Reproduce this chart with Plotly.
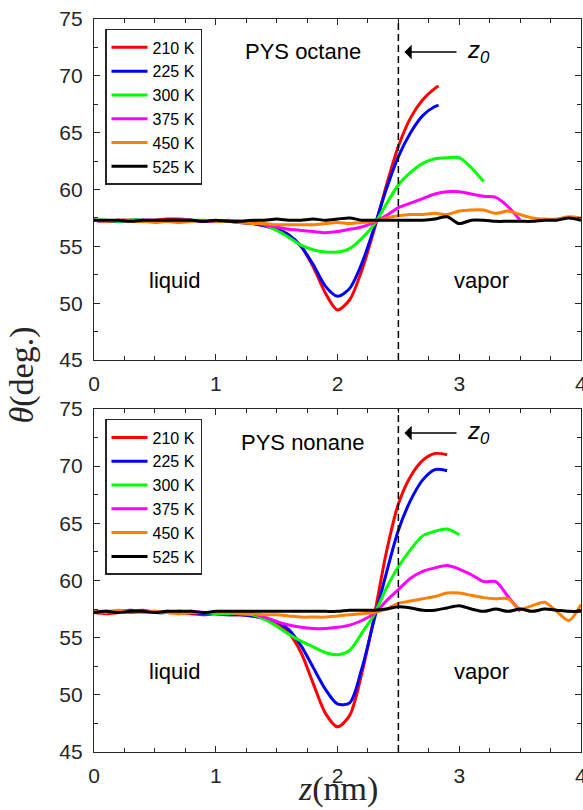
import plotly.graph_objects as go

# ---------------- data ----------------
Z_GRID = [0.0, 0.1, 0.2, 0.3, 0.4, 0.5, 0.6, 0.7, 0.8, 0.9, 1.0, 1.1, 1.2, 1.3, 1.4,
          1.5, 1.6, 1.7, 1.8, 1.9, 2.0, 2.1, 2.2, 2.3, 2.4, 2.5, 2.6, 2.7, 2.8, 2.9,
          3.0, 3.1, 3.2, 3.3, 3.4, 3.5, 3.6, 3.7, 3.8, 3.9, 4.0]
Z_END_OCT_LOW_T = 2.83

labels = ["210 K", "225 K", "300 K", "375 K", "450 K", "525 K"]
colors = ["#FF0000", "#0000FF", "#00FF00", "#FF00FF", "#FF8000", "#000000"]

# PYS octane
oct_210 = [57.3, 57.2, 57.3, 57.3, 57.2, 57.3, 57.4, 57.4, 57.3, 57.2, 57.2, 57.2, 57.1,
           57.0, 56.8, 56.5, 56.0, 55.0, 53.2, 50.9, 49.4, 50.3, 52.9, 56.4, 60.3, 63.8,
           66.3, 67.9, 68.9, 69.1]
oct_225 = [57.3, 57.2, 57.2, 57.3, 57.3, 57.2, 57.3, 57.3, 57.3, 57.2, 57.2, 57.2, 57.1,
           57.0, 56.8, 56.5, 56.0, 55.0, 53.4, 51.5, 50.6, 51.3, 53.5, 56.6, 60.0, 62.9,
           65.0, 66.5, 67.3, 67.4]
oct_300 = [57.3, 57.3, 57.2, 57.3, 57.3, 57.2, 57.2, 57.3, 57.3, 57.3, 57.2, 57.2, 57.2,
           57.1, 56.9, 56.4, 55.8, 55.1, 54.7, 54.5, 54.5, 54.8, 55.7, 56.9, 58.7, 60.4,
           61.5, 62.3, 62.7, 62.8, 62.8, 61.9, 60.7]
oct_375 = [57.3, 57.2, 57.3, 57.2, 57.3, 57.3, 57.2, 57.3, 57.3, 57.2, 57.2, 57.3, 57.2,
           57.2, 56.9, 56.7, 56.5, 56.4, 56.3, 56.2, 56.3, 56.5, 56.7, 57.1, 57.7, 58.4,
           58.8, 59.2, 59.6, 59.8, 59.8, 59.6, 59.4, 59.3, 58.5, 57.3]
oct_450 = [57.3, 57.2, 57.3, 57.2, 57.2, 57.1, 57.2, 57.1, 57.2, 57.3, 57.2, 57.2, 57.1,
           57.0, 57.0, 56.9, 56.9, 56.9, 56.9, 57.0, 57.1, 57.0, 57.1, 57.2, 57.5, 57.7,
           57.8, 57.8, 57.9, 57.8, 58.1, 58.2, 58.2, 57.9, 58.1, 57.8, 57.5, 57.4, 57.4,
           57.6, 57.5]
oct_525 = [57.3, 57.3, 57.3, 57.2, 57.3, 57.3, 57.3, 57.3, 57.3, 57.2, 57.3, 57.2, 57.2,
           57.3, 57.3, 57.4, 57.3, 57.3, 57.4, 57.3, 57.4, 57.5, 57.3, 57.3, 57.3, 57.3,
           57.3, 57.3, 57.4, 57.6, 57.0, 57.3, 57.3, 57.2, 57.2, 57.2, 57.2, 57.3, 57.3,
           57.5, 57.3]

# PYS nonane
non_210 = [57.2, 57.1, 57.2, 57.3, 57.4, 57.2, 57.3, 57.2, 57.1, 57.0, 57.1, 57.0, 57.0,
           56.9, 56.7, 56.3, 55.4, 53.7, 51.0, 48.4, 47.2, 48.2, 51.9, 56.8, 62.4, 66.7,
           69.1, 70.5, 71.1, 71.0]
non_225 = [57.3, 57.2, 57.3, 57.4, 57.3, 57.2, 57.2, 57.3, 57.2, 57.1, 57.1, 57.0, 57.0,
           56.9, 56.7, 56.4, 55.7, 54.3, 52.4, 50.5, 49.2, 49.3, 52.3, 56.5, 60.6, 64.4,
           67.0, 68.8, 69.7, 69.6]
non_300 = [57.3, 57.3, 57.2, 57.3, 57.3, 57.2, 57.2, 57.3, 57.2, 57.2, 57.1, 57.1, 57.1,
           57.0, 56.6, 56.0, 55.3, 54.7, 54.2, 53.7, 53.5, 53.9, 55.4, 57.0, 59.3, 61.2,
           62.7, 63.9, 64.3, 64.5, 64.0]
non_375 = [57.2, 57.3, 57.3, 57.2, 57.3, 57.3, 57.2, 57.2, 57.3, 57.2, 57.2, 57.2, 57.2,
           57.1, 56.8, 56.4, 56.1, 55.9, 55.8, 55.8, 55.9, 56.1, 56.5, 57.1, 58.2, 59.2,
           60.2, 60.8, 61.1, 61.3, 61.0, 60.5, 59.9, 59.9, 58.6, 57.3]
non_450 = [57.3, 57.2, 57.4, 57.3, 57.2, 57.3, 57.2, 57.1, 57.2, 57.2, 57.2, 57.2, 57.1,
           57.1, 57.0, 57.0, 56.9, 56.8, 56.8, 56.8, 56.9, 57.0, 57.1, 57.2, 57.5, 58.0,
           58.2, 58.4, 58.6, 58.9, 58.9, 58.7, 58.5, 58.4, 58.4, 57.5, 57.8, 58.1, 57.3,
           56.5, 57.9]
non_525 = [57.2, 57.3, 57.2, 57.3, 57.3, 57.2, 57.3, 57.3, 57.3, 57.2, 57.3, 57.3, 57.3,
           57.3, 57.3, 57.3, 57.3, 57.3, 57.3, 57.3, 57.3, 57.4, 57.4, 57.4, 57.5, 57.7,
           57.6, 57.4, 57.4, 57.6, 57.8, 57.5, 57.3, 57.5, 57.3, 57.5, 57.3, 57.5, 57.4,
           57.3, 57.3]

octane = [oct_210, oct_225, oct_300, oct_375, oct_450, oct_525]
nonane = [non_210, non_225, non_300, non_375, non_450, non_525]

X_RANGE = [0, 4]
Y_RANGE = [45, 75]
Z0 = 2.5

# ---------------- figure ----------------
fig = go.Figure()


def z_for(y, panel, i):
    z = Z_GRID[:len(y)]
    if panel == 0 and i in (0, 1):
        z = Z_GRID[:len(y) - 1] + [Z_END_OCT_LOW_T]
    return z


for panel, (series, xa, ya, lg) in enumerate([(octane, "x", "y", "legend"),
                                               (nonane, "x2", "y2", "legend2")]):
    for i, y in enumerate(series):
        fig.add_trace(go.Scatter(
            x=z_for(y, panel, i), y=y, mode="lines", name=labels[i],
            line=dict(color=colors[i], width=3, shape="spline", smoothing=0.8),
            xaxis=xa, yaxis=ya, legend=lg, showlegend=True))

axis_col = "#262626"
SANS = "Liberation Sans, Arial, sans-serif"
SERIF = "Liberation Serif, Times New Roman, serif"
tickfont = dict(family=SANS, size=21, color=axis_col)


def xaxis(domain_anchor):
    return dict(range=X_RANGE, showline=True, linecolor=axis_col, linewidth=1.3,
                mirror="allticks", ticks="inside", ticklen=6, tickwidth=1.2,
                tickcolor=axis_col, tick0=0, dtick=1,
                minor=dict(ticks="inside", dtick=0.25, ticklen=4, tickwidth=1.2,
                           tickcolor=axis_col),
                showgrid=False, zeroline=False, tickfont=tickfont,
                anchor=domain_anchor, ticklabelstandoff=5)


def yaxis(domain, anchor):
    return dict(range=Y_RANGE, domain=domain, showline=True, linecolor=axis_col,
                linewidth=1.3, mirror="allticks", ticks="inside", ticklen=6,
                tickwidth=1.2, tickcolor=axis_col, tick0=45, dtick=5,
                minor=dict(ticks="inside", dtick=2.5, ticklen=4, tickwidth=1.2,
                           tickcolor=axis_col),
                showgrid=False, zeroline=False, tickfont=tickfont, anchor=anchor,
                ticklabelstandoff=6)


legend_common = dict(font=dict(family=SANS, size=16, color="#000000"),
                     bgcolor="white", bordercolor=axis_col, borderwidth=1.5,
                     xanchor="left", yanchor="top", tracegroupgap=0,
                     itemclick=False, itemwidth=36)

shapes = []
annotations = []
for xa, ya, name, arrow_y in [("x", "y", "PYS octane", 72.1), ("x2", "y2", "PYS nonane", 72.9)]:
    shapes.append(dict(type="line", xref=xa, yref=ya, x0=Z0, x1=Z0, y0=Y_RANGE[0],
                       y1=Y_RANGE[1], line=dict(color="black", width=1.5, dash="7px,4px")))
    annotations += [
        dict(xref=xa, yref=ya, x=1.72, y=72.1, text=name, showarrow=False,
             font=dict(family=SANS, size=22, color="black")),
        dict(xref=xa, yref=ya, x=0.66, y=52.0, text="liquid", showarrow=False,
             font=dict(family=SANS, size=22, color="black")),
        dict(xref=xa, yref=ya, x=3.18, y=52.0, text="vapor", showarrow=False,
             font=dict(family=SANS, size=22, color="black")),
        dict(xref=xa, yref=ya, x=2.55, y=arrow_y, ax=2.99, ay=arrow_y, axref=xa,
             ayref=ya, text="", showarrow=True, arrowhead=1, arrowsize=1.6,
             arrowwidth=1.5, arrowcolor="black"),
        dict(xref=xa, yref=ya, x=3.05, y=arrow_y, xanchor="left", yanchor="middle",
             text="<i>z</i><sub><i>0</i></sub>", showarrow=False,
             font=dict(family=SANS, size=24, color="black")),
        # right-most tick label, partly outside the page as in the original
        dict(xref=xa, yref=ya, x=X_RANGE[1], y=Y_RANGE[0], xanchor="center",
             yanchor="top", yshift=-10, text="4", showarrow=False, font=tickfont),
    ]

annotations += [
    dict(xref="paper", yref="paper", x=0.5, y=-0.051, xanchor="center",
         yanchor="middle", text="<i>z</i>(nm)", showarrow=False,
         font=dict(family=SERIF, size=34, color="#262626")),
    dict(xref="paper", yref="paper", x=-0.148, y=0.515, xanchor="center",
         yanchor="middle", text="<i>θ</i>(deg.)", textangle=-90, showarrow=False,
         font=dict(family=SERIF, size=34, color="#262626")),
]

fig.update_layout(
    width=583, height=810,
    margin=dict(l=94, r=2, t=19, b=58),
    paper_bgcolor="white", plot_bgcolor="white",
    xaxis=xaxis("y"), yaxis=yaxis([0.5348, 1.0], "x"),
    xaxis2=xaxis("y2"), yaxis2=yaxis([0.0, 0.468], "x2"),
    legend=dict(x=0.0226, y=0.9864, **legend_common),
    legend2=dict(x=0.0226, y=0.4543, **legend_common),
    shapes=shapes, annotations=annotations,
)

fig.write_html("out.html")
